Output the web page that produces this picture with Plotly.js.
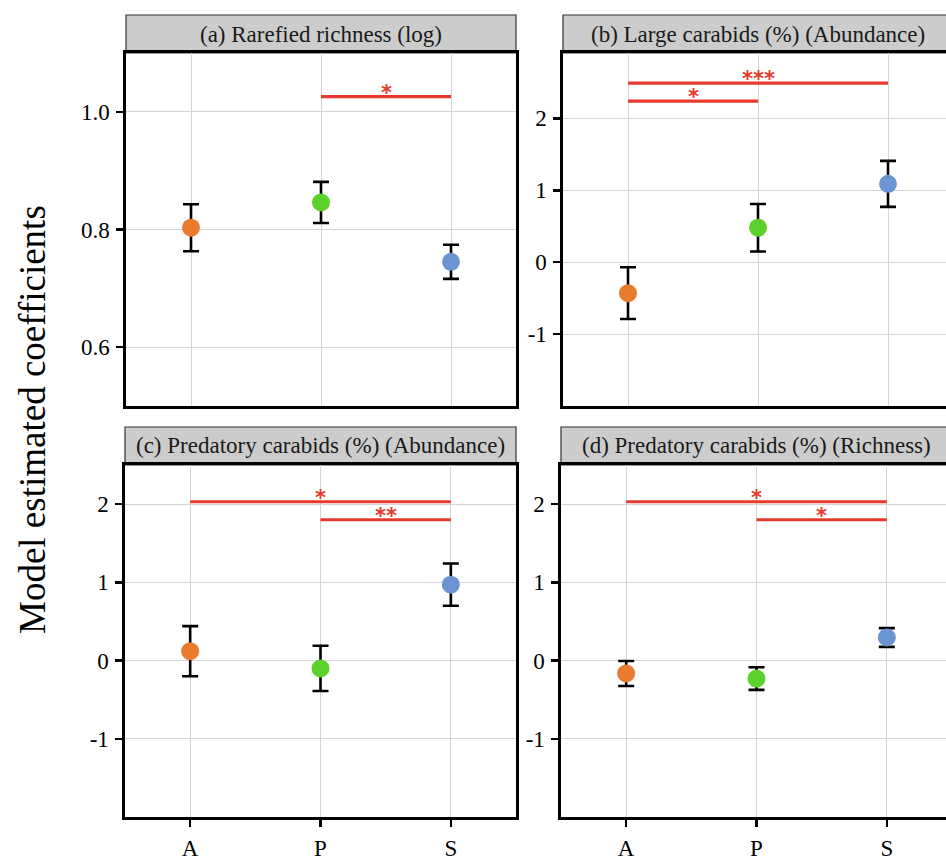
<!DOCTYPE html>
<html>
<head>
<meta charset="utf-8">
<script src="https://cdn.plot.ly/plotly-3.0.1.min.js"></script>
<style>
html, body { margin:0; padding:0; overflow:hidden; background:#fff; }
#chart { width:960px; height:857px; }
</style>
</head>
<body>
<div id="chart"></div>
<script>
// ---- data ----
const categories = ['A', 'P', 'S'];
const panelTitles = [
  '(a) Rarefied richness (log)',
  '(b) Large carabids (%) (Abundance)',
  '(c) Predatory carabids (%) (Abundance)',
  '(d) Predatory carabids (%) (Richness)'
];
const estA = [0.803, 0.846, 0.745];
const errA = [0.040, 0.035, 0.029];
const estB = [-0.43, 0.48, 1.09];
const errB = [0.36, 0.33, 0.32];
const estC = [0.12, -0.10, 0.97];
const errC = [0.32, 0.29, 0.27];
const estD = [-0.165, -0.23, 0.295];
const errD = [0.16, 0.145, 0.12];
const yTicksA = [0.6, 0.8, 1.0];
const yTickTextA = ['0.6', '0.8', '1.0'];
const yTicksBCD = [-1, 0, 1, 2];
const yTickTextBCD = ['-1', '0', '1', '2'];
const yRangeA = [0.5, 1.1];
const yRangeB = [-2.0, 2.91];
const yRangeCD = [-2.0, 2.5];
// significance brackets
const sigPanel = [0, 1, 1, 2, 2, 3, 3];
const sigFrom  = [1, 0, 0, 0, 1, 0, 1];
const sigTo    = [2, 2, 1, 2, 2, 2, 2];
const sigY     = [1.026, 2.49, 2.24, 2.03, 1.80, 2.03, 1.80];
const sigLabel = ['*', '***', '*', '*', '**', '*', '*'];
const pointColors = ['#E87B2E', '#5DD12B', '#6B95D1'];

// ---- figure ----
const W = 960, H = 857;
const FONT = 'Times New Roman, Liberation Serif, DejaVu Serif, serif';
const estimates = [estA, estB, estC, estD];
const errors = [errA, errB, errC, errD];
const xIdx = categories.map((c, i) => i);
const axSuffix = ['', '2', '3', '4'];

const panelPx = [
  {x0:126, x1:516, y0:53,  y1:406},
  {x0:563, x1:953, y0:53,  y1:406},
  {x0:125, x1:516, y0:465, y1:817},
  {x0:561, x1:952, y0:465, y1:817}
];

const traces = [];
for (let k = 0; k < sigPanel.length; k++) {
  const p = sigPanel[k];
  traces.push({
    type:'scatter', mode:'lines',
    x:[sigFrom[k], sigTo[k]], y:[sigY[k], sigY[k]],
    xaxis:'x' + axSuffix[p], yaxis:'y' + axSuffix[p],
    line:{color:'#E53A2C', width:3.2},
    hoverinfo:'skip', showlegend:false
  });
}
for (let p = 0; p < 4; p++) {
  traces.push({
    type:'scatter', mode:'markers',
    x:xIdx, y:estimates[p],
    xaxis:'x' + axSuffix[p], yaxis:'y' + axSuffix[p],
    marker:{color:pointColors, size:18},
    error_y:{type:'data', array:errors[p], visible:true, color:'#000', thickness:2.6, width:8},
    showlegend:false
  });
}

const layout = {
  width:W, height:H,
  margin:{l:0, r:0, t:0, b:0},
  paper_bgcolor:'#fff', plot_bgcolor:'#fff',
  font:{family:FONT, color:'#000', size:20},
  showlegend:false,
  shapes:[], annotations:[]
};

const yRanges = [yRangeA, yRangeB, yRangeCD, yRangeCD];
const yTicks = [yTicksA, yTicksBCD, yTicksBCD, yTicksBCD];
const yTickTexts = [yTickTextA, yTickTextBCD, yTickTextBCD, yTickTextBCD];

for (let p = 0; p < 4; p++) {
  const px = panelPx[p];
  const xd = [px.x0 / W, px.x1 / W];
  const yd = [(H - px.y1) / H, (H - px.y0) / H];
  const bottomRow = p >= 2;
  layout['xaxis' + axSuffix[p]] = {
    domain:xd, range:[-0.5, 2.5], anchor:'y' + axSuffix[p],
    tickvals:xIdx, ticktext:categories,
    showticklabels:bottomRow, ticks:bottomRow ? 'outside' : '',
    ticklen:7, tickwidth:2.5, tickcolor:'#000',
    ticklabelstandoff:2,
    showline:true, mirror:true, linecolor:'#000', linewidth:2.6,
    showgrid:true, gridcolor:'#D4D4D4', gridwidth:1,
    zeroline:false, fixedrange:true,
    tickfont:{family:FONT, size:23, color:'#000'}
  };
  layout['yaxis' + axSuffix[p]] = {
    domain:yd, range:yRanges[p], anchor:'x' + axSuffix[p],
    tickvals:yTicks[p], ticktext:yTickTexts[p],
    ticks:'outside', ticklen:7, tickwidth:2.5, tickcolor:'#000',
    ticklabelstandoff:2,
    showline:true, mirror:true, linecolor:'#000', linewidth:2.6,
    showgrid:true, gridcolor:'#D4D4D4', gridwidth:1,
    zeroline:false, fixedrange:true,
    tickfont:{family:FONT, size:23, color:'#000'}
  };
  const stripTop = p < 2 ? 15 : 427;
  layout.shapes.push({
    type:'rect', xref:'paper', yref:'paper',
    x0:xd[0], x1:xd[1], y0:yd[1], y1:(H - stripTop) / H,
    fillcolor:'#CCCCCC', line:{color:'#333', width:1.2}, layer:'below'
  });
  layout.annotations.push({
    xref:'paper', yref:'paper',
    x:(xd[0] + xd[1]) / 2, y:(yd[1] + (H - stripTop) / H) / 2,
    text:panelTitles[p], showarrow:false,
    font:{family:FONT, size:23, color:'#1a1a1a'},
    xanchor:'center', yanchor:'middle'
  });
}
for (let k = 0; k < sigPanel.length; k++) {
  const p = sigPanel[k];
  layout.annotations.push({
    xref:'x' + axSuffix[p], yref:'y' + axSuffix[p],
    x:(sigFrom[k] + sigTo[k]) / 2, y:sigY[k],
    text:'<b>' + sigLabel[k] + '</b>', showarrow:false,
    font:{family:'DejaVu Sans', size:21, color:'#E53A2C'},
    xanchor:'center', yanchor:'bottom', yshift:-10
  });
}
layout.annotations.push({
  xref:'paper', yref:'paper', x:32 / W, y:(H - 420) / H,
  text:'Model estimated coefficients', textangle:-90, showarrow:false,
  font:{family:FONT, size:37, color:'#000'},
  xanchor:'center', yanchor:'middle'
});

Plotly.newPlot('chart', traces, layout, {displayModeBar:false, staticPlot:true});
</script>
</body>
</html>
